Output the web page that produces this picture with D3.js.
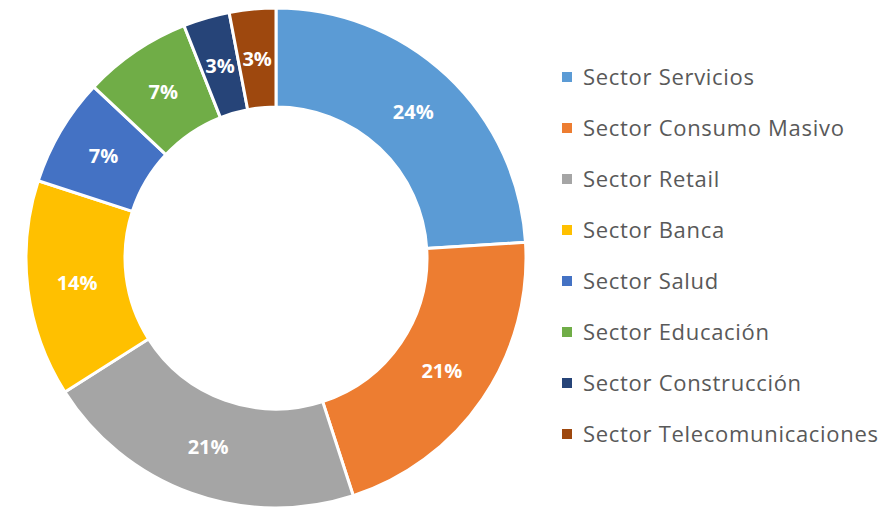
<!DOCTYPE html>
<html>
<head>
<meta charset="utf-8">
<script src="https://cdn.jsdelivr.net/npm/d3@7"></script>
<style>
  body { margin: 0; background: #fff; }
  svg { display: block; }
</style>
</head>
<body>
<div id="chart"></div>
<script>
// chart data
var sectors = ["Sector Servicios", "Sector Consumo Masivo", "Sector Retail", "Sector Banca",
  "Sector Salud", "Sector Educación", "Sector Construcción", "Sector Telecomunicaciones"];
var shares = [24, 21, 21, 14, 7, 7, 3, 3];
var colors = ["#5B9BD5", "#ED7D31", "#A5A5A5", "#FFC000", "#4472C4", "#70AD47", "#264478", "#9E480E"];

var svgWidth = 884;
var svgHeight = 508;

var center = { x: 276, y: 258 };
var outerR = 250;
var innerR = 151;

var svg = d3.select("#chart")
  .append("svg")
  .attr("width", svgWidth)
  .attr("height", svgHeight);

var rows = sectors.map(function(s, i) {
  return { name: s, value: shares[i], color: colors[i] };
});

var pie = d3.pie()
  .sort(null)
  .value(d => d.value);

var arc = d3.arc()
  .innerRadius(innerR)
  .outerRadius(outerR);

var labelArc = d3.arc()
  .innerRadius((innerR + outerR) / 2)
  .outerRadius((innerR + outerR) / 2);

var pieGroup = svg.append("g")
  .attr("transform", `translate(${center.x}, ${center.y})`);

pieGroup.selectAll("path")
  .data(pie(rows))
  .enter()
  .append("path")
  .attr("d", arc)
  .attr("fill", d => d.data.color)
  .attr("stroke", "#fff")
  .attr("stroke-width", 3);

pieGroup.selectAll("text")
  .data(pie(rows))
  .enter()
  .append("text")
  .attr("transform", d => `translate(${labelArc.centroid(d)})`)
  .attr("dy", "0.36em")
  .attr("text-anchor", "middle")
  .attr("font-family", "'Open Sans', sans-serif")
  .attr("font-weight", "bold")
  .attr("font-size", "20px")
  .attr("fill", "#fff")
  .text(d => d.data.value + "%");

// legend
var legendY = d3.scalePoint()
  .domain(sectors)
  .range([77, 434]);

var legend = svg.append("g");

var items = legend.selectAll("g")
  .data(rows)
  .enter()
  .append("g")
  .attr("transform", d => `translate(562, ${legendY(d.name)})`);

items.append("rect")
  .attr("x", 0)
  .attr("y", -5)
  .attr("width", 10)
  .attr("height", 10)
  .attr("fill", d => d.color);

items.append("text")
  .attr("x", 21)
  .attr("dy", "0.36em")
  .attr("font-family", "'Open Sans', sans-serif")
  .attr("font-size", "22px")
  .attr("letter-spacing", "0.7px")
  .attr("fill", "#595959")
  .text(d => d.name);
</script>
</body>
</html>
